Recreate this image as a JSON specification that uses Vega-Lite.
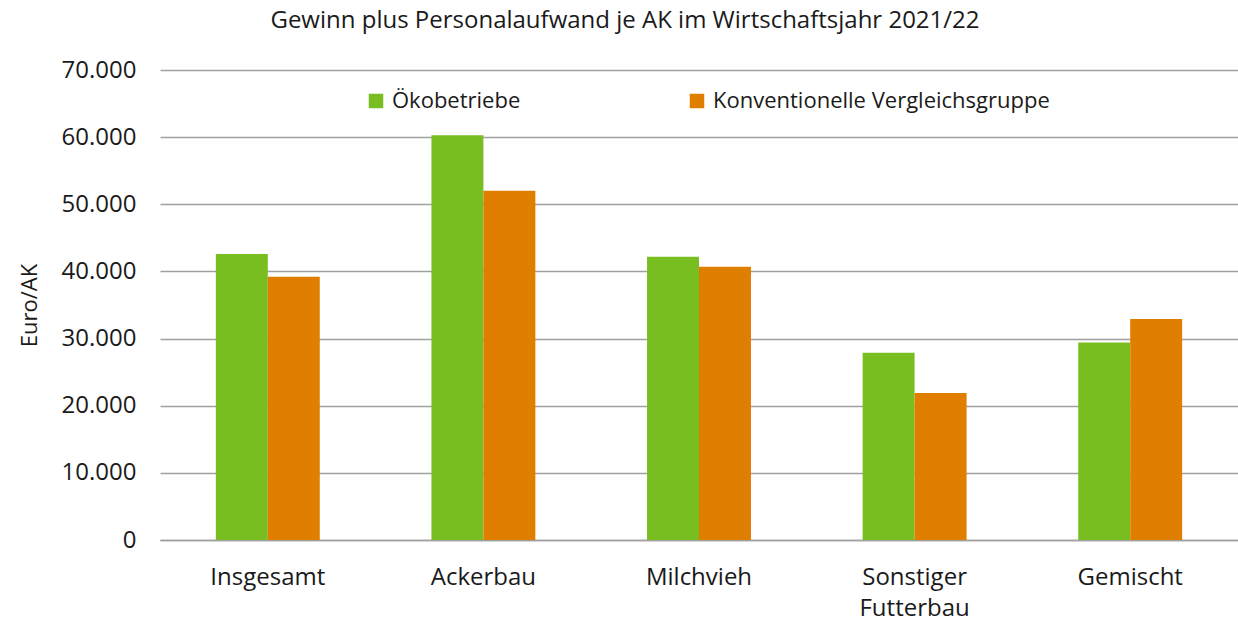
{
  "$schema": "https://vega.github.io/schema/vega-lite/v6.json",
  "autosize": "none",
  "width": 1078,
  "height": 470,
  "padding": {"left": 160, "top": 70, "right": 0, "bottom": 84},
  "background": "white",
  "config": {
    "locale": {"number": {"decimal": ",", "thousands": ".", "grouping": [3], "currency": ["", " €"]}},
    "font": "Open Sans",
    "view": {"stroke": null}
  },
  "title": {
    "text": "Gewinn plus Personalaufwand je AK im Wirtschaftsjahr 2021/22",
    "fontSize": 24,
    "fontWeight": "normal",
    "color": "#1a1a1a",
    "anchor": "middle",
    "dx": -74,
    "offset": 25,
    "font": "Open Sans"
  },
  "data": {
    "values": [
      {"kategorie": "Insgesamt", "gruppe": "Ökobetriebe", "wert": 42600},
      {"kategorie": "Insgesamt", "gruppe": "Konventionelle Vergleichsgruppe", "wert": 39200},
      {"kategorie": "Ackerbau", "gruppe": "Ökobetriebe", "wert": 60300},
      {"kategorie": "Ackerbau", "gruppe": "Konventionelle Vergleichsgruppe", "wert": 52000},
      {"kategorie": "Milchvieh", "gruppe": "Ökobetriebe", "wert": 42200},
      {"kategorie": "Milchvieh", "gruppe": "Konventionelle Vergleichsgruppe", "wert": 40700},
      {"kategorie": "Sonstiger Futterbau", "gruppe": "Ökobetriebe", "wert": 27900},
      {"kategorie": "Sonstiger Futterbau", "gruppe": "Konventionelle Vergleichsgruppe", "wert": 21900},
      {"kategorie": "Gemischt", "gruppe": "Ökobetriebe", "wert": 29400},
      {"kategorie": "Gemischt", "gruppe": "Konventionelle Vergleichsgruppe", "wert": 32900}
    ]
  },
  "mark": {"type": "bar"},
  "encoding": {
    "x": {
      "field": "kategorie",
      "type": "nominal",
      "sort": ["Insgesamt", "Ackerbau", "Milchvieh", "Sonstiger Futterbau", "Gemischt"],
      "scale": {"paddingInner": 0.518, "paddingOuter": 0.259},
      "axis": {
        "title": null,
        "labelAngle": 0,
        "labelFontSize": 24,
        "labelColor": "#1a1a1a",
        "labelFont": "Open Sans",
        "labelPadding": 25,
        "ticks": false,
        "domainColor": "#a0a0a0",
        "domainWidth": 1.5,
        "labelExpr": "datum.value == 'Sonstiger Futterbau' ? ['Sonstiger', 'Futterbau'] : datum.value",
        "labelLineHeight": 31
      }
    },
    "xOffset": {
      "field": "gruppe",
      "type": "nominal",
      "sort": ["Ökobetriebe", "Konventionelle Vergleichsgruppe"],
      "scale": {"paddingInner": 0, "paddingOuter": 0}
    },
    "y": {
      "field": "wert",
      "type": "quantitative",
      "scale": {"domain": [0, 70000]},
      "axis": {
        "title": "Euro/AK",
        "titleFontSize": 22,
        "titleFontWeight": "normal",
        "titleColor": "#1a1a1a",
        "titleFont": "Open Sans",
        "titlePadding": 20,
        "values": [0, 10000, 20000, 30000, 40000, 50000, 60000, 70000],
        "format": ",.0f",
        "labelFontSize": 24,
        "labelColor": "#1a1a1a",
        "labelFont": "Open Sans",
        "labelPadding": 24,
        "ticks": false,
        "domain": false,
        "gridColor": "#a0a0a0",
        "gridWidth": 1.5
      }
    },
    "color": {
      "field": "gruppe",
      "type": "nominal",
      "sort": ["Ökobetriebe", "Konventionelle Vergleichsgruppe"],
      "scale": {"domain": ["Ökobetriebe", "Konventionelle Vergleichsgruppe"], "range": ["#78be20", "#e07e00"]},
      "legend": {
        "title": null,
        "orient": "none",
        "legendX": 205,
        "legendY": 20,
        "direction": "horizontal",
        "columns": 2,
        "columnPadding": 165,
        "symbolType": "square",
        "symbolSize": 210,
        "symbolStrokeWidth": 0,
        "labelFontSize": 22,
        "labelFont": "Open Sans",
        "labelColor": "#1a1a1a",
        "labelOffset": 5,
        "labelLimit": 500
      }
    }
  }
}
